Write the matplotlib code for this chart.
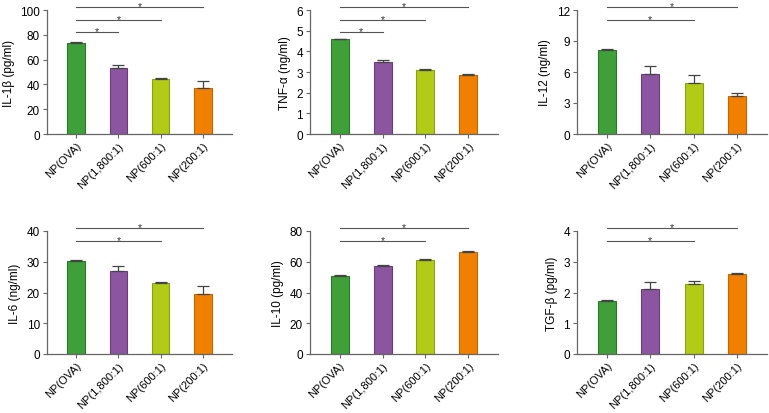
import matplotlib.pyplot as plt
import numpy as np

plt.rcParams['font.family'] = ['Liberation Sans', 'DejaVu Sans']

groups = ["NP(OVA)", "NP(1,800:1)", "NP(600:1)", "NP(200:1)"]
colors = ["#3fa03a", "#8b569f", "#b2cb16", "#f17f00"]
edges = ["#2c7a28", "#6a3c7c", "#8aa010", "#c56500"]

# means and upper error bars
il1b = [73.0, 53.0, 44.0, 37.5]
il1b_err = [1.5, 3.0, 1.5, 5.0]
tnfa = [4.58, 3.47, 3.12, 2.85]
tnfa_err = [0.04, 0.09, 0.04, 0.04]
il12 = [8.15, 5.85, 4.95, 3.65]
il12_err = [0.05, 0.75, 0.8, 0.35]
il6 = [30.2, 27.0, 23.2, 19.6]
il6_err = [0.3, 1.7, 0.15, 2.4]
il10 = [50.5, 57.3, 61.2, 66.5]
il10_err = [0.8, 0.6, 0.4, 0.3]
tgfb = [1.72, 2.12, 2.27, 2.6]
tgfb_err = [0.02, 0.22, 0.1, 0.05]

# label, means, errors, y max, y ticks, significance bars (end group, height)
panels = [
    ("IL-1β (pg/ml)", il1b, il1b_err, 100, [0, 20, 40, 60, 80, 100], [(1, 82), (2, 91.7), (3, 102.7)]),
    ("TNF-α (ng/ml)", tnfa, tnfa_err, 6, [0, 1, 2, 3, 4, 5, 6], [(1, 4.92), (2, 5.52), (3, 6.15)]),
    ("IL-12 (ng/ml)", il12, il12_err, 12, [0, 3, 6, 9, 12], [(2, 11.03), (3, 12.3)]),
    ("IL-6 (ng/ml)", il6, il6_err, 40, [0, 10, 20, 30, 40], [(2, 36.8), (3, 40.9)]),
    ("IL-10 (pg/ml)", il10, il10_err, 80, [0, 20, 40, 60, 80], [(2, 73.6), (3, 81.8)]),
    ("TGF-β (pg/ml)", tgfb, tgfb_err, 4, [0, 1, 2, 3, 4], [(2, 3.68), (3, 4.09)]),
]

fig = plt.figure(figsize=(7.69, 4.14), dpi=100)

lefts = [47, 310, 577]
rights = [232, 498, 767]
rows = [(11, 135), (232, 355)]

x = np.arange(len(groups))
for i, (label, vals, err, ymax, yt, sig) in enumerate(panels):
    r, c = divmod(i, 3)
    top, bot = rows[r]
    l, rt = lefts[c], rights[c]
    ax = fig.add_axes([l / 769, 1 - bot / 414, (rt - l) / 769, (bot - top) / 414])
    ax.bar(x, vals, width=0.42, color=colors, edgecolor=edges, linewidth=0.8, zorder=2)
    ax.errorbar(x, vals, yerr=[np.zeros(4), err], fmt="none", ecolor="#444444",
                elinewidth=0.9, capsize=4, capthick=0.9, zorder=3)
    ax.set_xlim(-0.69, 3.69)
    ax.set_ylim(0, ymax)
    ax.set_yticks(yt)
    ax.set_xticks(x)
    ax.set_xticklabels(groups, rotation=45, ha="right", rotation_mode="anchor", fontsize=8)
    ax.tick_params(axis="y", labelsize=8.5, length=3, color="#666666", pad=2)
    ax.tick_params(axis="x", length=3, color="#666666", pad=1.5)
    ax.set_ylabel(label, fontsize=8.5, labelpad=4)
    for s in ["top", "right"]:
        ax.spines[s].set_visible(False)
    for s in ["left", "bottom"]:
        ax.spines[s].set_color("#666666")
        ax.spines[s].set_linewidth(0.9)
    for end, h in sig:
        ax.plot([0, end], [h, h], color="#555555", lw=0.8, clip_on=False)
        ax.annotate("*", (end / 2, h), xytext=(0, -1.5), textcoords="offset points",
                    ha="center", va="baseline", fontsize=7.5, color="#333333",
                    annotation_clip=False)

plt.savefig("out.png", dpi=100)
